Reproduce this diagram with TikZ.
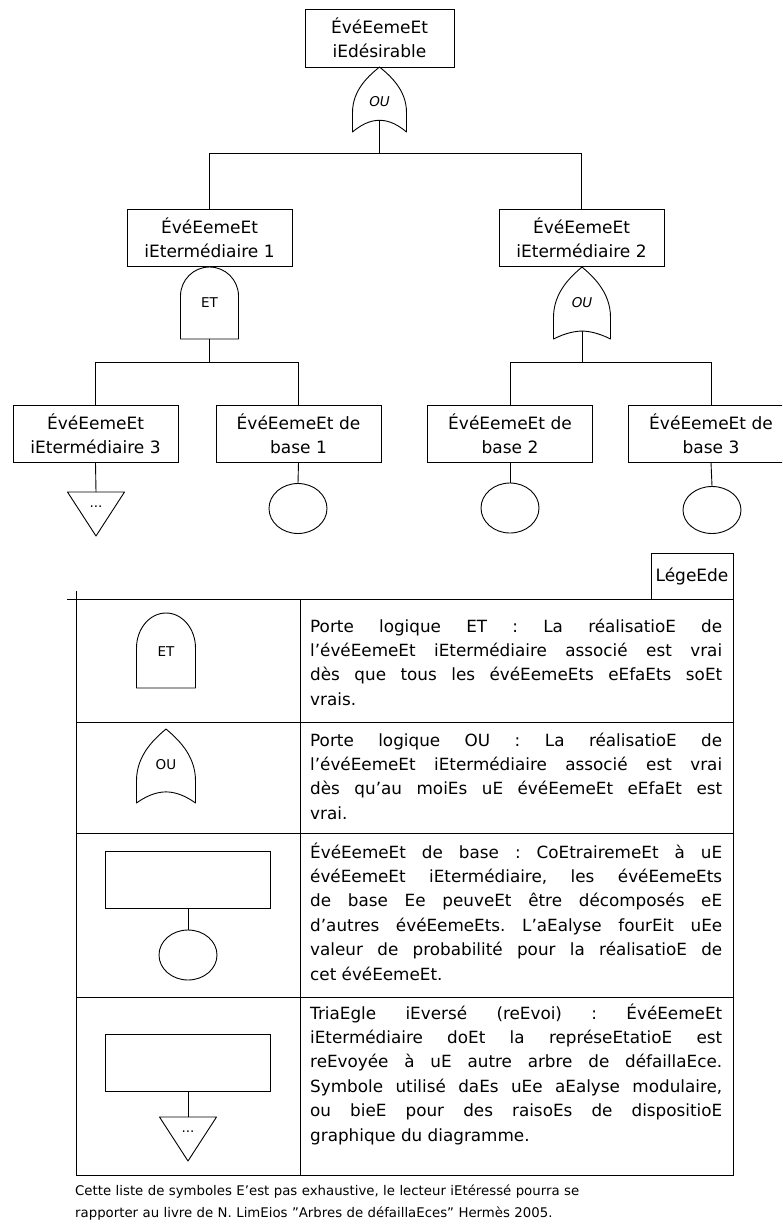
\documentclass[tikz,border=0pt]{standalone}
\usepackage{fontspec}
\setmainfont{DejaVu Sans}
\usetikzlibrary{shapes.geometric}
\newcommand\treefont{\fontsize{17}{24}\selectfont}
\newcommand\legfont{\fontsize{16.8}{24.4}\selectfont\frenchspacing}
\newcommand\gatefont{\fontsize{13.5}{15}\selectfont}
\newcommand\notefont{\fontsize{13.3}{22}\selectfont}
% OR gate: name, cx, top, half width, height, notch (fraction of height)
\newcommand\ORgate[6]{%
\begin{scope}[shift={(#2,#3)}]
 \draw[gateline] (0,0) .. controls (-0.35*#4,0.12*#5) and (-#4,0.34*#5) .. (-#4,0.7*#5) -- (-#4,#5)
   .. controls (-0.55*#4,#6*#5+0.02*#5) and (-0.2*#4,#6*#5) .. (0,#6*#5)
   .. controls (0.2*#4,#6*#5) and (0.55*#4,#6*#5+0.02*#5) .. (#4,#5)
   -- (#4,0.7*#5) .. controls (#4,0.34*#5) and (0.35*#4,0.12*#5) .. (0,0);
 \coordinate (#1-top) at (0,0);
 \coordinate (#1-bot) at (0,#6*#5);
\end{scope}}
% AND gate: name, cx, top, half width, height, arc height
\newcommand\ANDgate[6]{%
\begin{scope}[shift={(#2,#3)}]
 \draw[gateline] (-#4,#5) -- (-#4,#6) arc[start angle=180,end angle=360,x radius=#4,y radius=#6] -- (#4,#5) -- cycle;
 \coordinate (#1-top) at (0,0);
 \coordinate (#1-bot) at (0,#5);
\end{scope}}
% transfer triangle: name, cx, top, half width, height
\newcommand\TRIgate[5]{%
\begin{scope}[shift={(#2,#3)}]
 \draw[gateline] (-#4,0) -- (#4,0) -- (0,#5) -- cycle;
 \coordinate (#1-top) at (0,0);
 \node[font=\gatefont] (#1-dots) at (0,0.33*#5) {...};
\end{scope}}
\tikzset{
 gateline/.style={line width=0.9pt, line join=round},
 evbox/.style={draw, line width=0.9pt, minimum width=165pt, minimum height=57pt, inner sep=0pt, align=center, font=\treefont},
 basecirc/.style={draw, line width=0.9pt, ellipse, minimum width=58pt, minimum height=50pt, inner sep=0pt},
 wire/.style={line width=0.9pt},
 legtext/.style={anchor=base west, inner sep=0pt, text width=412pt, align=justify, font=\legfont},
}
\begin{document}
\begin{tikzpicture}[x=1pt,y=-1pt]
\useasboundingbox (0,0) rectangle (782,1228);
\fill[white] (0,0) rectangle (782,1228);
\clip (0,0) rectangle (782,1228);

% ---------- tree ----------
\node[evbox, minimum width=149pt, minimum height=58pt] (top) at (379.5,38) {ÉvéEemeEt\\iEdésirable};
\ORgate{g0}{379.5}{67}{27}{65}{0.82}
\node[font=\gatefont\itshape] (g0t) at (379.5,102) {OU};
\coordinate (bus0) at (379.5,153);

\node[evbox] (i1) at (209.5,238) {ÉvéEemeEt\\iEtermédiaire 1};
\node[evbox] (i2) at (581.5,238) {ÉvéEemeEt\\iEtermédiaire 2};
\draw[wire] (g0-bot) -- (bus0);
\draw[wire] (i1.north) |- (bus0);
\draw[wire] (i2.north) |- (bus0);

\ANDgate{g1}{209.5}{267}{29}{72}{29}
\node[font=\gatefont] (g1t) at (209.5,303) {ET};
\ORgate{g2}{582}{267}{28.5}{72}{0.89}
\node[font=\gatefont\itshape] (g2t) at (582,303) {OU};
\coordinate (bus1) at (209.5,362);
\coordinate (bus2) at (582,362);

\node[evbox] (i3) at (95.5,433.5) {ÉvéEemeEt\\iEtermédiaire 3};
\node[evbox] (b1) at (298.5,433.5) {ÉvéEemeEt de\\base 1};
\node[evbox] (b2) at (510,433.5) {ÉvéEemeEt de\\base 2};
\node[evbox] (b3) at (711,433.5) {ÉvéEemeEt de\\base 3};
\draw[wire] (g1-bot) -- (bus1);
\draw[wire] (i3.north) |- (bus1);
\draw[wire] (b1.north) |- (bus1);
\draw[wire] (g2-bot) -- (bus2);
\draw[wire] (b2.north) |- (bus2);
\draw[wire] (b3.north) |- (bus2);

\TRIgate{t3}{96}{492}{28.5}{44}
\draw[wire] (i3.south) -- (t3-top);
\node[basecirc] (c1) at (298,508.5) {};
\node[basecirc] (c2) at (510,508) {};
\node[basecirc, minimum height=47pt] (c3) at (712,510) {};
\draw[wire] (b1.south) -- (c1.north);
\draw[wire] (b2.south) -- (c2.north);
\draw[wire] (b3.south) -- (c3.north);

% ---------- legend ----------
\node[draw, line width=0.9pt, minimum width=82pt, minimum height=46pt, inner sep=0pt, font=\treefont] (leg) at (692,576) {LégeEde};
\coordinate (tl) at (76,599);
\coordinate (tt) at (76,591);
\coordinate (tx) at (67,599);
\coordinate (tr) at (733,599);
\coordinate (bl) at (76,1175);
\coordinate (br) at (733,1175);
\coordinate (dt) at (300,599);
\coordinate (db) at (300,1175);
\draw[wire] (tt) -- (bl) -- (br) -- (tr) -- (tx);
\draw[wire] (dt) -- (db);
\coordinate (r1l) at (76,722);  \coordinate (r1r) at (733,722);
\coordinate (r2l) at (76,833);  \coordinate (r2r) at (733,833);
\coordinate (r3l) at (76,997);  \coordinate (r3r) at (733,997);
\draw[wire] (r1l) -- (r1r);
\draw[wire] (r2l) -- (r2r);
\draw[wire] (r3l) -- (r3r);

% row 1 : ET
\ANDgate{la}{166}{613}{29.5}{75}{35}
\node[font=\gatefont] (lat) at (166,652) {ET};
\node[legtext] (txt1) at (310,632) {Porte logique ET : La réalisatioE de\linebreak l'évéEemeEt iEtermédiaire associé est vrai\linebreak dès que tous les évéEemeEts eEfaEts soEt\linebreak vrais.};

% row 2 : OU
\ORgate{lo}{166}{729}{29.5}{74}{0.85}
\node[font=\gatefont] (lot) at (166,765) {OU};
\node[legtext] (txt2) at (310,746) {Porte logique OU : La réalisatioE de\linebreak l'évéEemeEt iEtermédiaire associé est vrai\linebreak dès qu'au moiEs uE évéEemeEt eEfaEt est\linebreak vrai.};

% row 3 : basic event
\node[evbox] (lb) at (188,880) {};
\node[basecirc] (lc) at (188,955) {};
\draw[wire] (lb.south) -- (lc.north);
\node[legtext] (txt3) at (310,858) {ÉvéEemeEt de base : CoEtrairemeEt à uE\linebreak évéEemeEt iEtermédiaire, les évéEemeEts\linebreak de base Ee peuveEt être décomposés eE\linebreak d'autres évéEemeEts. L'aEalyse fourEit uEe\linebreak valeur de probabilité pour la réalisatioE de\linebreak cet évéEemeEt.};

% row 4 : transfer
\node[evbox] (lr) at (188,1063) {};
\TRIgate{lt}{188}{1117}{28.5}{44}
\draw[wire] (lr.south) -- (lt-top);
\node[legtext] (txt4) at (310,1019) {TriaEgle iEversé (reEvoi) : ÉvéEemeEt\linebreak iEtermédiaire doEt la représeEtatioE est\linebreak reEvoyée à uE autre arbre de défaillaEce.\linebreak Symbole utilisé daEs uEe aEalyse modulaire,\linebreak ou bieE pour des raisoEs de dispositioE\linebreak graphique du diagramme.};

% footnote
\node[anchor=base west, inner sep=0pt, text width=700pt, align=left, font=\notefont] (note) at (75,1195) {Cette liste de symboles E'est pas exhaustive, le lecteur iEtéressé pourra se\\rapporter au livre de N. LimEios "Arbres de défaillaEces" Hermès 2005.};
\end{tikzpicture}
\end{document}
